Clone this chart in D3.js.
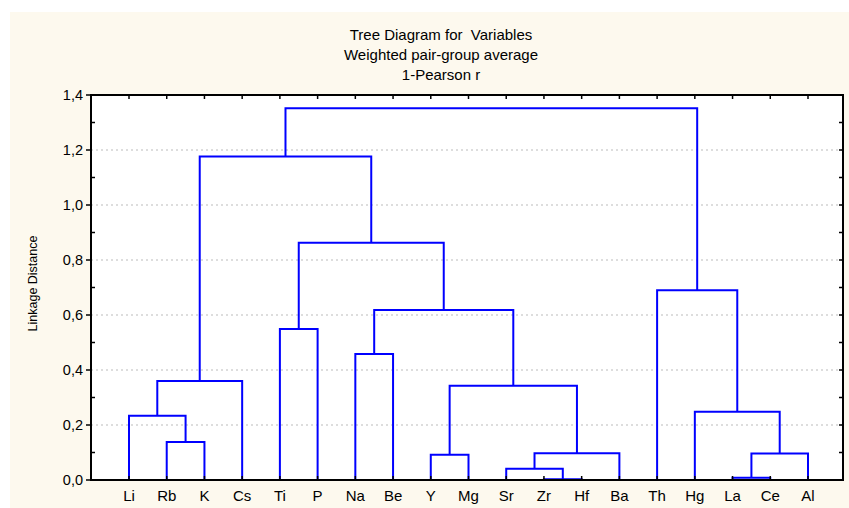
<!DOCTYPE html>
<meta charset="utf-8">
<style>
  body { margin: 0; background: #fff; }
  text { font-family: "Liberation Sans", Arial, sans-serif; fill: #000; white-space: pre; }
  .grid { stroke: #bbb; stroke-dasharray: 2,3; stroke-width: 1; }
  .link { fill: none; stroke: #0000ff; stroke-width: 2; }
</style>
<svg width="849" height="508"></svg>
<script src="https://d3js.org/d3.v7.min.js"></script>
<script>
  // leaf order along the bottom axis
  var leaves = ["Li", "Rb", "K", "Cs", "Ti", "P", "Na", "Be", "Y", "Mg",
                "Sr", "Zr", "Hf", "Ba", "Th", "Hg", "La", "Ce", "Al"];

  // merges: "#n" refers to the n-th merge
  var mergeA = ["Rb", "Li", "#1", "Ti", "Na", "Y", "Zr", "Sr", "#7", "#5",
                "#4", "#3", "#2", "La", "#13", "Hg", "Th", "#12"];
  var mergeB = ["K", "#0", "Cs", "P", "Be", "Mg", "Hf", "#6", "Ba", "#8",
                "#9", "#10", "#11", "Ce", "Al", "#14", "#15", "#16"];
  var mergeHeight = [0.138, 0.234, 0.360, 0.549, 0.458, 0.092, 0.003, 0.041, 0.097, 0.343,
                     0.618, 0.863, 1.176, 0.008, 0.096, 0.248, 0.690, 1.352];

  var yTicks = [0, 0.2, 0.4, 0.6, 0.8, 1.0, 1.2, 1.4];
  var yMinor = [0.1, 0.3, 0.5, 0.7, 0.9, 1.1, 1.3];
  var titleLines = ["Tree Diagram for  Variables", "Weighted pair-group average", "1-Pearson r"];

  var svg = d3.select("svg");
  var plotL = 91, plotR = 843, plotT = 95, plotB = 480;

  // cream background panel
  svg.append("rect")
    .attr("x", 10).attr("y", 12)
    .attr("width", 839).attr("height", 496)
    .attr("fill", "#fdf9ee");

  svg.append("rect")
    .attr("x", plotL).attr("y", plotT)
    .attr("width", plotR - plotL).attr("height", plotB - plotT)
    .attr("fill", "#fff");

  var x = d3.scalePoint().domain(leaves).range([129, 808]);
  var y = d3.scaleLinear().domain([0, 1.4]).range([plotB, plotT]);

  // gridlines
  svg.append("g").selectAll("line")
    .data(yTicks.filter(function (d) { return d > 0 && d < 1.4; }))
    .enter().append("line")
    .attr("class", "grid")
    .attr("x1", plotL).attr("x2", plotR)
    .attr("y1", function (d) { return y(d); })
    .attr("y2", function (d) { return y(d); });

  // compute cluster positions
  var pos = {};
  function nodeX(k) { return k.charAt(0) === "#" ? pos[k].x : x(k); }
  function nodeH(k) { return k.charAt(0) === "#" ? pos[k].h : 0; }

  var links = svg.append("g");
  mergeHeight.forEach(function (h, i) {
    var a = mergeA[i], b = mergeB[i];
    var xa = nodeX(a), xb = nodeX(b);
    pos["#" + i] = { x: (xa + xb) / 2, h: h };
    links.append("path")
      .attr("class", "link")
      .attr("d", "M" + xa + "," + y(nodeH(a)) + "V" + y(h) + "H" + xb + "V" + y(nodeH(b)));
  });

  // frame
  svg.append("rect")
    .attr("x", plotL).attr("y", plotT)
    .attr("width", plotR - plotL).attr("height", plotB - plotT)
    .attr("fill", "none").attr("stroke", "#000").attr("stroke-width", 2);

  var fmt = function (d) { return d3.format(".1f")(d).replace(".", ","); };

  // left axis: major ticks outward, minor ticks inward
  var yAxis = svg.append("g");
  yAxis.selectAll("line.major").data(yTicks).enter().append("line")
    .attr("x1", plotL - 5).attr("x2", plotL)
    .attr("y1", function (d) { return y(d); }).attr("y2", function (d) { return y(d); })
    .attr("stroke", "#000").attr("stroke-width", 1.5);
  yAxis.selectAll("line.minor").data(yMinor).enter().append("line")
    .attr("x1", plotL).attr("x2", plotL + 4)
    .attr("y1", function (d) { return y(d); }).attr("y2", function (d) { return y(d); })
    .attr("stroke", "#000").attr("stroke-width", 1.5);
  yAxis.selectAll("text").data(yTicks).enter().append("text")
    .attr("x", plotL - 8)
    .attr("y", function (d) { return y(d) + 5; })
    .attr("text-anchor", "end")
    .attr("font-size", 14.5)
    .text(fmt);

  // right axis ticks inward
  svg.append("g").selectAll("line").data(yTicks.concat(yMinor)).enter().append("line")
    .attr("x1", plotR - 4).attr("x2", plotR)
    .attr("y1", function (d) { return y(d); }).attr("y2", function (d) { return y(d); })
    .attr("stroke", "#000").attr("stroke-width", 1.5);

  // top and bottom ticks at leaves
  var xt = svg.append("g");
  xt.selectAll("line.t").data(leaves).enter().append("line")
    .attr("x1", function (d) { return x(d); }).attr("x2", function (d) { return x(d); })
    .attr("y1", plotT).attr("y2", plotT + 4)
    .attr("stroke", "#000").attr("stroke-width", 1.5);
  xt.selectAll("line.b").data(leaves).enter().append("line")
    .attr("x1", function (d) { return x(d); }).attr("x2", function (d) { return x(d); })
    .attr("y1", plotB - 4).attr("y2", plotB)
    .attr("stroke", "#000").attr("stroke-width", 1.5);
  xt.selectAll("text").data(leaves).enter().append("text")
    .attr("x", function (d) { return x(d); })
    .attr("y", plotB + 21)
    .attr("text-anchor", "middle")
    .attr("font-size", 15)
    .text(function (d) { return d; });

  // titles
  svg.append("g").selectAll("text").data(titleLines).enter().append("text")
    .attr("x", 441)
    .attr("y", function (d, i) { return 40 + i * 20; })
    .attr("text-anchor", "middle")
    .attr("font-size", 15)
    .text(function (d) { return d; });

  svg.append("text")
    .attr("transform", "translate(37," + ((plotT + plotB) / 2 - 4) + ") rotate(-90)")
    .attr("text-anchor", "middle")
    .attr("font-size", 12.5)
    .text("Linkage Distance");
</script>
